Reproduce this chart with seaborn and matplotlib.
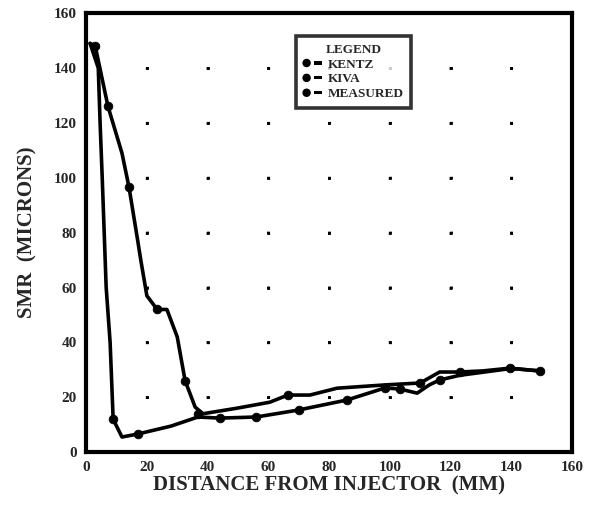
import matplotlib
matplotlib.use("Agg")
import matplotlib.pyplot as plt
import seaborn as sns
import pandas as pd
from matplotlib.legend_handler import HandlerBase
from matplotlib.patches import Circle, Rectangle
from matplotlib.lines import Line2D

# --- data ---
kentz_x = [1.3, 3, 7.2, 11.8, 14.1, 17, 18, 20, 23.4, 26.6, 30, 32.6, 35.9, 38.5, 49.6, 60.5, 66.4, 73.7, 82.6, 98.4, 110, 116.4, 123, 130.6, 139.5, 149.3]
kentz_y = [149, 148, 126, 109, 96.7, 77, 70, 57, 52, 52, 42, 26, 16.4, 14, 16, 18.2, 20.8, 20.8, 23.3, 24.5, 25.2, 29.2, 29.2, 29.6, 30.6, 29.6]

kiva_x = [1.3, 4, 4.6, 5.3, 6.6, 7.9, 8.9, 11.8, 17, 28, 36.8, 44, 56, 69.7, 85.9, 98.4, 103.3, 109, 113, 116.4, 123, 140, 149.3]
kiva_y = [149, 140, 120, 100, 60, 40, 12, 5.5, 6.6, 9.5, 12.8, 12.4, 12.8, 15.3, 19, 23.4, 23, 21.5, 24.5, 26.3, 28, 30.5, 29.6]

meas_x = [3, 7.2, 14.1, 23.4, 32.6, 8.9, 17, 36.8, 44, 56, 66.4, 70, 85.9, 98.4, 103.3, 110, 116.4, 123, 139.5, 149.3]
meas_y = [148, 126, 96.7, 52, 26, 12, 6.6, 14, 12.4, 12.8, 20.8, 15.3, 19, 23.4, 23, 25.2, 26.3, 29.2, 30.6, 29.6]

x_ticks = [0, 20, 40, 60, 80, 100, 120, 140, 160]
y_ticks = [0, 20, 40, 60, 80, 100, 120, 140, 160]

series_names = ["KENTZ", "KIVA", "MEASURED"]

sns.set_theme(style="white")
plt.rcParams['font.family'] = ['Liberation Serif', 'DejaVu Serif']
plt.rcParams['font.weight'] = 'bold'

fig = plt.figure(figsize=(5.94, 5.08), dpi=100)
ax = fig.add_axes([0.145, 0.110, 0.818, 0.864])

df_k = pd.DataFrame({"x": kentz_x, "y": kentz_y})
df_v = pd.DataFrame({"x": kiva_x, "y": kiva_y})
df_m = pd.DataFrame({"x": meas_x, "y": meas_y})

sns.lineplot(data=df_k, x="x", y="y", ax=ax, sort=False, estimator=None,
             color="black", linewidth=2.6, label=series_names[0])
sns.lineplot(data=df_v, x="x", y="y", ax=ax, sort=False, estimator=None,
             color="black", linewidth=2.6, label=series_names[1])
sns.scatterplot(data=df_m, x="x", y="y", ax=ax, color="black", s=40,
                edgecolor="black", label=series_names[2], zorder=5)

ax.set_xlim(0, 160)
ax.set_ylim(0, 160)
ax.set_xticks(x_ticks)
ax.set_yticks(y_ticks)
ax.set_xticklabels([str(v) for v in x_ticks], fontsize=11, fontweight="bold")
ax.set_yticklabels([str(v) for v in y_ticks], fontsize=11, fontweight="bold")
ax.tick_params(axis="both", direction="inout", length=7, width=2, color="black", pad=3)
ax.set_xlabel("DISTANCE FROM INJECTOR  (MM)", fontsize=15, fontweight="bold", labelpad=1)
ax.set_ylabel("SMR  (MICRONS)", fontsize=15, fontweight="bold", labelpad=12)

for s in ax.spines.values():
    s.set_visible(True)
    s.set_color("black")
    s.set_linewidth(3.0)

# dotted grid with one dot at each grid intersection
fig_w_pt = 5.94 * 72
fig_h_pt = 5.08 * 72
lw = 2.0
x_step_pt = 0.818 * fig_w_pt / 8
y_step_pt = 0.864 * fig_h_pt / 8
ax.xaxis.grid(True, color="black", linewidth=lw,
              linestyle=(0.5, (1.0, y_step_pt / lw - 1.0)))
ax.yaxis.grid(True, color="black", linewidth=lw,
              linestyle=(0.5, (1.0, x_step_pt / lw - 1.0)))


class DotDash(HandlerBase):
    def create_artists(self, legend, orig_handle, xdescent, ydescent,
                       width, height, fontsize, trans):
        cy = height / 2 - ydescent
        r = height * 0.38
        c = Circle((-xdescent + r, cy), r, facecolor="black", edgecolor="black",
                   transform=trans)
        d = Rectangle((-xdescent + width * 0.55, cy - height * 0.17),
                      width * 0.42, height * 0.34, facecolor="black",
                      edgecolor="none", transform=trans)
        return [c, d]


handles = [Line2D([0], [0], color="black") for _ in series_names]
leg = ax.legend(handles, series_names, title="LEGEND", loc="upper left",
                bbox_to_anchor=(0.418, 0.962), frameon=True, fancybox=False,
                edgecolor="black", fontsize=9.5, title_fontsize=9.5,
                handlelength=1.5, borderpad=0.55, labelspacing=0.2,
                handletextpad=0.4, handler_map={Line2D: DotDash()})
leg.get_frame().set_linewidth(2.6)
for t in leg.get_texts():
    t.set_fontweight("bold")
leg.get_title().set_fontweight("bold")

fig.savefig("out.png", dpi=100)
